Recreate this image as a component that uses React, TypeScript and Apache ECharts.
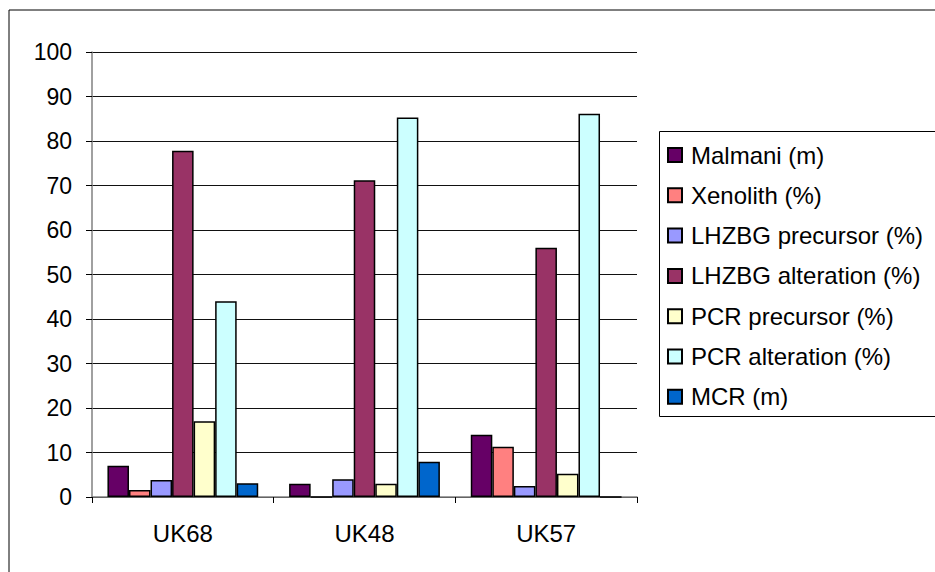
import { useEffect, useRef } from 'react';
import * as echarts from 'echarts';

const categories = ['UK68', 'UK48', 'UK57'];
const seriesNames = [
  'Malmani (m)',
  'Xenolith (%)',
  'LHZBG precursor (%)',
  'LHZBG alteration (%)',
  'PCR precursor (%)',
  'PCR alteration (%)',
  'MCR (m)',
];
const malmani = [7, 3, 14];
const xenolith = [1.6, 0, 11.3];
const lhzbgPrecursor = [3.8, 4, 2.5];
const lhzbgAlteration = [77.8, 71.2, 56];
const pcrPrecursor = [17, 3, 5.2];
const pcrAlteration = [44, 85.3, 86.1];
const mcr = [3.1, 7.9, 0];
const yTicks = [0, 10, 20, 30, 40, 50, 60, 70, 80, 90, 100];

const seriesValues = [malmani, xenolith, lhzbgPrecursor, lhzbgAlteration, pcrPrecursor, pcrAlteration, mcr];
const colors = ['#660066', '#FF8080', '#9999FF', '#993366', '#FFFFCC', '#CCFFFF', '#0066CC'];

const FONT = 'Liberation Sans, Arial, sans-serif';

export default function App() {
  const chartRef = useRef<HTMLDivElement>(null);

  useEffect(() => {
    if (!chartRef.current) return;
    const chart = echarts.init(chartRef.current, null, { renderer: 'svg' });

    chart.setOption({
      animation: false,
      backgroundColor: '#fff',
      textStyle: { fontFamily: FONT },
      graphic: [
        {
          type: 'rect',
          shape: { x: 9, y: 10, width: 1000, height: 1000 },
          style: { fill: 'none', stroke: '#000', lineWidth: 1 },
          silent: true,
        },
        {
          type: 'rect',
          shape: { x: 659.5, y: 131.5, width: 300, height: 285 },
          style: { fill: 'none', stroke: '#000', lineWidth: 1 },
          silent: true,
        },
      ],
      legend: {
        orient: 'vertical',
        left: 667,
        top: 143,
        padding: 0,
        itemWidth: 14,
        itemHeight: 14,
        itemGap: 16.3,
        icon: 'rect',
        textStyle: { fontSize: 24, color: '#000', fontFamily: FONT, lineHeight: 24, padding: [0, 0, 0, 4] },
        data: seriesNames,
      },
      grid: { left: 92, right: 298, top: 52, bottom: 75 },
      xAxis: {
        type: 'category',
        data: categories,
        axisLine: { lineStyle: { color: '#808080', width: 1.5 } },
        axisTick: { show: true, length: 6, lineStyle: { color: '#000' } },
        axisLabel: { fontSize: 24, color: '#000', margin: 24, fontFamily: FONT },
      },
      yAxis: {
        type: 'value',
        min: yTicks[0],
        max: yTicks[yTicks.length - 1],
        interval: 10,
        axisLine: { show: true, lineStyle: { color: '#808080', width: 1.5 } },
        axisTick: { show: true, length: 6, inside: false, lineStyle: { color: '#000' } },
        axisLabel: { fontSize: 23, color: '#000', margin: 20, fontFamily: FONT },
        splitLine: { show: true, lineStyle: { color: '#111', width: 1 } },
      },
      series: seriesNames.map((name, i) => ({
        name,
        type: 'bar',
        data: seriesValues[i],
        barGap: '0%',
        barCategoryGap: '17%',
        itemStyle: { color: colors[i], borderColor: '#000', borderWidth: 1.5 },
      })),
    });

    return () => chart.dispose();
  }, []);

  return (
    <div
      ref={chartRef}
      style={{ position: 'absolute', left: 0, top: 0, width: 935, height: 572 }}
    />
  );
}
